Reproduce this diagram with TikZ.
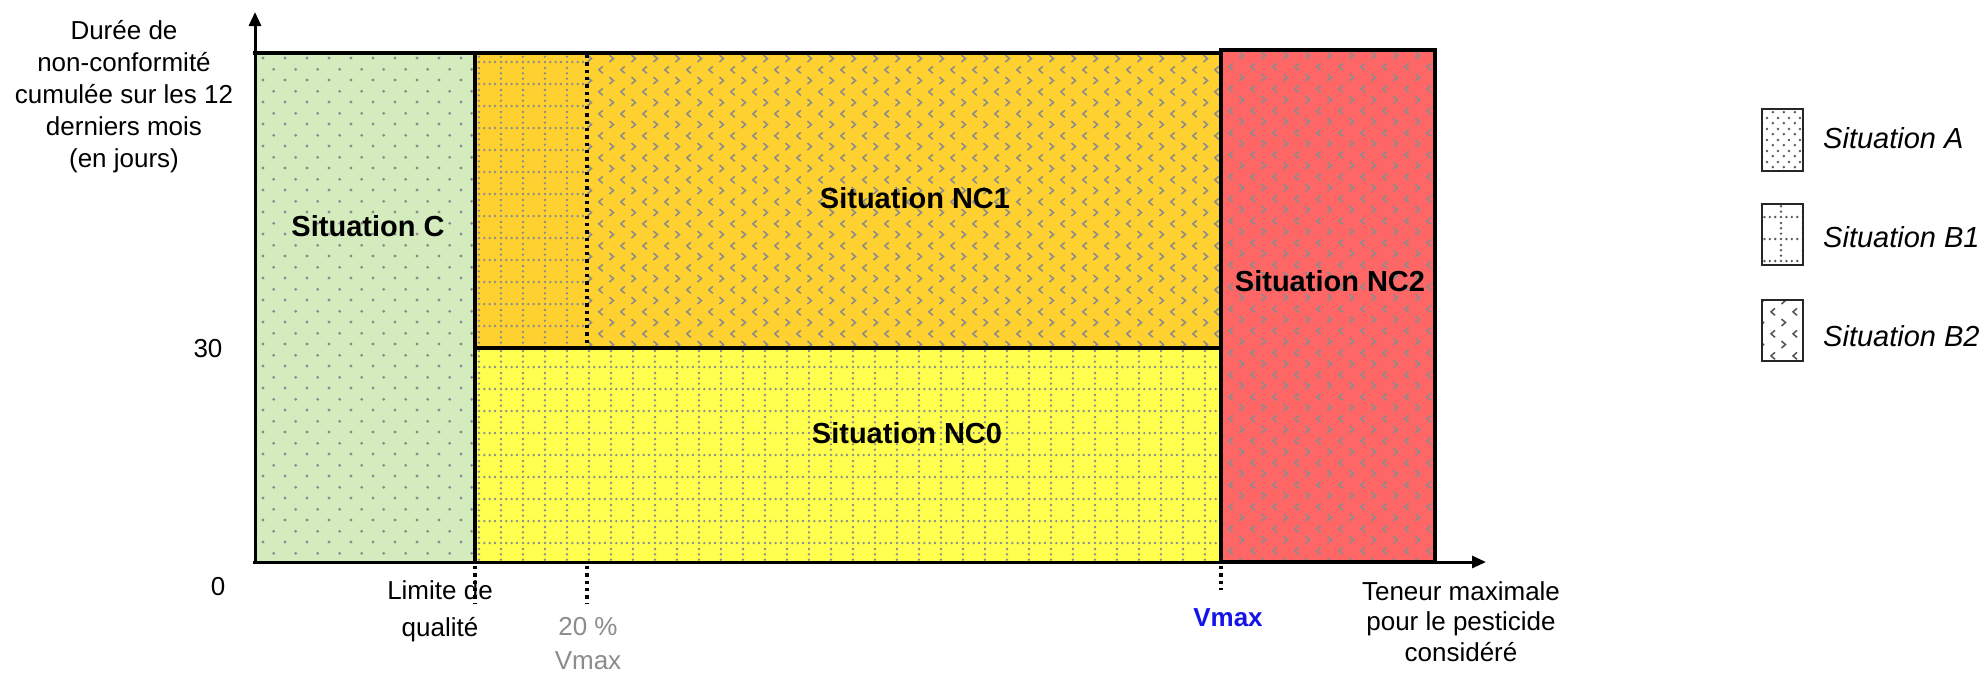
\documentclass[tikz,border=0pt]{standalone}
\usepackage{fontspec}
\setmainfont{Liberation Sans}
\usetikzlibrary{patterns.meta,arrows.meta}

\definecolor{cgreen}{RGB}{212,235,190}
\definecolor{corange}{RGB}{254,209,48}
\definecolor{cyellow}{RGB}{255,255,80}
\definecolor{cred}{RGB}{255,102,102}
\definecolor{pgrey}{RGB}{140,140,140}
\definecolor{tgrey}{RGB}{140,140,140}
\definecolor{vblue}{RGB}{20,20,230}

\tikzdeclarepattern{name=patA,
  bottom left={(0pt,0pt)}, top right={(21.7pt,21.7pt)}, tile size={(21.7pt,21.7pt)},
  code={\fill (3pt,3pt) circle (1.6pt); \fill (13.85pt,13.85pt) circle (1.6pt);}}

\tikzdeclarepattern{name=patAleg,
  bottom left={(0pt,0pt)}, top right={(11pt,11pt)}, tile size={(11pt,11pt)},
  code={\fill (2pt,2pt) circle (1.5pt); \fill (7.5pt,7.5pt) circle (1.5pt);}}

\tikzdeclarepattern{name=patBone,
  bottom left={(0pt,0pt)}, top right={(21.7pt,21.7pt)}, tile size={(21.7pt,21.7pt)},
  code={
    \fill (2pt,2pt) circle (1.35pt);
    \fill (7.425pt,2pt) circle (1.35pt);
    \fill (12.85pt,2pt) circle (1.35pt);
    \fill (18.275pt,2pt) circle (1.35pt);
    \fill (2pt,7.425pt) circle (1.35pt);
    \fill (2pt,12.85pt) circle (1.35pt);
    \fill (2pt,18.275pt) circle (1.35pt);}}

\tikzdeclarepattern{name=patBtwo,
  bottom left={(0pt,0pt)}, top right={(21.7pt,21.7pt)}, tile size={(21.7pt,21.7pt)},
  code={
    \draw[line width=1.6pt] (2.5pt,9pt) -- (6.5pt,5.5pt) -- (2.5pt,2pt);
    \draw[line width=1.6pt] (18pt,19.85pt) -- (14pt,16.35pt) -- (18pt,12.85pt);}}

\tikzset{
  axfont/.style={font=\fontsize{26}{30.5}\selectfont},
  lblfont/.style={font=\fontsize{29}{33}\selectfont\bfseries},
  legfont/.style={font=\fontsize{29}{33}\selectfont\itshape},
  border/.style={line width=3.5pt, line cap=rect},
  dotline/.style={line width=3.3pt, dash pattern=on 3.3pt off 4pt},
  legbox/.style={draw=black!85, line width=2pt},
}

\begin{document}
\begin{tikzpicture}[x=1pt,y=-1pt]
\useasboundingbox (0,0) rectangle (1981,675);

% fills
\fill[cgreen] (255,53) rectangle (475,562);
\fill[pattern=patA, pattern color=pgrey] (255,53) rectangle (475,562);
\fill[corange] (475,53) rectangle (1221,348);
\fill[pattern=patBone, pattern color=pgrey] (475,53) rectangle (587,348);
\fill[pattern=patBtwo, pattern color=pgrey] (587,53) rectangle (1221,348);
\fill[cyellow] (475,348) rectangle (1221,562);
\fill[pattern=patBone, pattern color=pgrey] (475,348) rectangle (1221,562);
\fill[cred] (1221,50) rectangle (1435,562);
\fill[pattern=patBtwo, pattern color=pgrey] (1221,50) rectangle (1435,562);

% borders
\draw[border] (255,53) -- (1221,53);
\draw[border] (475,53) -- (475,562);
\draw[border] (475,348) -- (1221,348);
\draw[border] (1221,50) rectangle (1435,562);
\draw[dotline] (587,55) -- (587,346);

% axes
\draw[line width=3pt, -{Triangle[length=14pt,width=12pt]}] (255,564) -- (255,12);
\draw[line width=3pt, -{Triangle[length=14pt,width=12pt]}] (253,562) -- (1486,562);

% ticks
\draw[dotline] (475,566) -- (475,604);
\draw[dotline] (587,566) -- (587,604);
\draw[dotline] (1221,566) -- (1221,590);

% axis texts (base anchor = baseline of last line)
\node[axfont, align=center, anchor=base, font=\fontsize{26}{32}\selectfont] (ylab) at (124,167) {Durée de\\non-conformité\\cumulée sur les 12\\derniers mois\\(en jours)};
\node[axfont] (zero) at (218,587) {0};
\node[axfont] (trente) at (208,349) {30};
\node[axfont, align=center, anchor=base, font=\fontsize{26}{37}\selectfont] (limite) at (440,636) {Limite de\\qualité};
\node[axfont, align=center, anchor=base, text=tgrey, inner sep=0pt, font=\fontsize{26}{34}\selectfont] (vingt) at (588,669) {20 \%\\Vmax};
\node[axfont, anchor=base, text=vblue, font=\fontsize{26}{30.5}\selectfont\bfseries] (vmax) at (1228,626) {Vmax};
\node[axfont, align=center, anchor=base] (teneur) at (1461,661) {Teneur maximale\\pour le pesticide\\considéré};

% region labels
\node[lblfont, anchor=base] (sC) at (368,236) {Situation C};
\node[lblfont, anchor=base] (sNCone) at (915,208) {Situation NC1};
\node[lblfont, anchor=base] (sNCtwo) at (1330,291) {Situation NC2};
\node[lblfont, anchor=base] (sNCzero) at (907,443) {Situation NC0};

% legend
\fill[white] (1762,109) rectangle (1803,171);
\fill[pattern=patAleg, pattern color=black!65] (1762,109) rectangle (1803,171);
\draw[legbox] (1762,109) rectangle (1803,171);
\fill[white] (1762,204) rectangle (1803,265);
\fill[pattern=patBone, pattern color=black!65] (1762,204) rectangle (1803,265);
\draw[legbox] (1762,204) rectangle (1803,265);
\fill[white] (1762,300) rectangle (1803,361);
\fill[pattern=patBtwo, pattern color=black!65] (1762,300) rectangle (1803,361);
\draw[legbox] (1762,300) rectangle (1803,361);
\node[legfont, anchor=base west, inner sep=0pt] (lA) at (1823,148) {Situation A};
\node[legfont, anchor=base west, inner sep=0pt] (lBone) at (1823,247) {Situation B1};
\node[legfont, anchor=base west, inner sep=0pt] (lBtwo) at (1823,346) {Situation B2};
\end{tikzpicture}
\end{document}
